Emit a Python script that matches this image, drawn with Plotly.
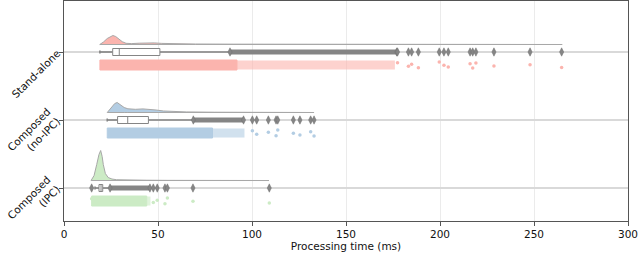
import plotly.graph_objects as go

# ---------------- data ----------------
categories = ["Stand-alone", "Composed<br>(no-IPC)", "Composed<br>(IPC)"]
colors = ["#fbb4ae", "#b3cde3", "#ccebc5"]

# half-violin density outlines: x (ms) and relative density height
sa_dens_x = [19, 21, 23, 25, 26, 27.5, 29, 31, 33, 36, 40, 44, 48, 52, 58, 70, 90, 130, 180, 265]
sa_dens_h = [0, 2.5, 6, 8.5, 9, 8, 5.5, 2.8, 1.2, 0.9, 1.3, 1.7, 1.6, 1.1, 0.7, 0.5, 0.35, 0.2, 0.1, 0]
np_dens_x = [23, 25, 27, 28.3, 30, 32, 34, 38, 42, 45.5, 49, 53, 57, 65, 80, 100, 133]
np_dens_h = [0, 4, 9, 10, 8, 5, 3.7, 3.2, 3.6, 3.4, 2.5, 1.5, 1.0, 0.6, 0.3, 0.15, 0]
ipc_dens_x = [14.4, 16, 17.4, 18.6, 19.5, 20.3, 20.9, 22, 23.5, 25.5, 28, 32, 35, 39, 44, 55, 75, 109]
ipc_dens_h = [0, 5, 16, 26, 30, 24, 16, 7, 3, 1.5, 0.8, 0.8, 1.0, 0.7, 0.3, 0.15, 0.05, 0]

# box statistics: low whisker, q1, median, q3, high whisker
sa_box = [19.1, 25.9, 29.4, 51.0, 88.3]
np_box = [23.0, 28.5, 33.9, 44.9, 68.8]
ipc_box = [16.5, 18.6, 19.7, 20.6, 24.5]

# dense runs of outliers (start, end) and isolated tail values
sa_out_run = [88.3, 177.0]
np_out_run = [68.8, 95.5]
ipc_out_run = [24.5, 45.7]
sa_tail = [177.4, 183.2, 184.9, 188.5, 199.6, 202.1, 204.4, 216.0, 217.4, 219.1, 228.7, 247.9, 264.7]
np_tail = [100.2, 102.5, 108.7, 112.8, 113.7, 122.0, 125.5, 131.2, 133.0]
ipc_tail = [14.7, 47.5, 49.6, 53.7, 55.0, 68.6, 109.2]

# raw-point (strip) bands: dense part and sparser part (start, end)
sa_strip_dense = [19.1, 92.0]
sa_strip_sparse = [92.0, 176.0]
np_strip_dense = [23.0, 79.0]
np_strip_sparse = [79.0, 96.0]
ipc_strip_dense = [14.7, 44.0]
ipc_strip_sparse = [44.0, 46.0]

x_ticks = [0, 50, 100, 150, 200, 250, 300]

# ---------------- drawing ----------------
dens_x = [sa_dens_x, np_dens_x, ipc_dens_x]
dens_h = [sa_dens_h, np_dens_h, ipc_dens_h]
boxes = [sa_box, np_box, ipc_box]
out_runs = [sa_out_run, np_out_run, ipc_out_run]
tails = [sa_tail, np_tail, ipc_tail]
strip_dense = [sa_strip_dense, np_strip_dense, ipc_strip_dense]
strip_sparse = [sa_strip_sparse, np_strip_sparse, ipc_strip_sparse]

PX = 1 / 68.0          # one pixel in y data units
GRAY = "#858585"
fig = go.Figure()

jit = [-0.035, 0.02, -0.01, 0.04, -0.045, 0.005, 0.03, -0.02, 0.045, -0.03, 0.015, -0.005, 0.035]

for i in range(3):
    yc = i
    base = yc - 7.5 * PX
    # half violin
    xs = dens_x[i]
    ys = [base - h * PX for h in dens_h[i]]
    fig.add_trace(go.Scatter(
        x=xs + xs[::-1], y=ys + [base] * len(xs), fill="toself",
        fillcolor=colors[i], line=dict(color="#a8a8a8", width=1),
        mode="lines", hoverinfo="skip"))

    # box
    lw, q1, med, q3, hw = boxes[i]
    bh = 3.5 * PX
    fig.add_trace(go.Scatter(x=[lw, q1, None, q3, hw], y=[yc, yc, None, yc, yc],
                             mode="lines", line=dict(color=GRAY, width=1.6), hoverinfo="skip"))
    fig.add_trace(go.Scatter(x=[lw, lw, None, hw, hw], y=[yc - 1.5 * PX, yc + 1.5 * PX, None, yc - 1.5 * PX, yc + 1.5 * PX],
                             mode="lines", line=dict(color=GRAY, width=1.6), hoverinfo="skip"))
    fig.add_trace(go.Scatter(x=[q1, q3, q3, q1, q1], y=[yc - bh, yc - bh, yc + bh, yc + bh, yc - bh],
                             mode="lines", fill="toself", fillcolor="white",
                             line=dict(color=GRAY, width=1), hoverinfo="skip"))
    fig.add_trace(go.Scatter(x=[med, med], y=[yc - bh, yc + bh], mode="lines",
                             line=dict(color=GRAY, width=1), hoverinfo="skip"))

    # outliers
    r0, r1 = out_runs[i]
    fig.add_trace(go.Scatter(x=[r0, r1], y=[yc, yc], mode="lines",
                             line=dict(color=GRAY, width=5), hoverinfo="skip"))
    fig.add_trace(go.Scatter(x=[r0, r1] + tails[i], y=[yc] * (2 + len(tails[i])), mode="markers",
                             marker=dict(symbol="diamond-tall", size=6, color=GRAY,
                                         line=dict(color="#707070", width=0.5)),
                             hoverinfo="skip"))

    # strip of raw points
    sc = yc + 13 * PX
    hh = 5 * PX
    d0, d1 = strip_dense[i]
    fig.add_trace(go.Scatter(x=[d0, d1, d1, d0, d0], y=[sc - hh, sc - hh, sc + hh, sc + hh, sc - hh],
                             mode="lines", fill="toself", fillcolor=colors[i],
                             line=dict(color=colors[i], width=1), hoverinfo="skip"))
    s0, s1 = strip_sparse[i]
    fig.add_trace(go.Scatter(x=[s0, s1, s1, s0, s0], y=[sc - hh * 0.9, sc - hh * 0.9, sc + hh * 0.9, sc + hh * 0.9, sc - hh * 0.9],
                             mode="lines", fill="toself", fillcolor=colors[i], opacity=0.6,
                             line=dict(color=colors[i], width=0), hoverinfo="skip"))
    t = tails[i]
    fig.add_trace(go.Scatter(x=t, y=[sc + jit[k % len(jit)] for k in range(len(t))], mode="markers",
                             marker=dict(size=3.5, color=colors[i]), hoverinfo="skip"))

FONT = "DejaVu Sans, Verdana, sans-serif"
fig.update_layout(
    width=640, height=254,
    margin=dict(l=64, r=12, t=1, b=33, autoexpand=False),
    paper_bgcolor="white", plot_bgcolor="white",
    showlegend=False,
    font=dict(family=FONT, size=10.5, color="#111"),
    xaxis=dict(range=[0, 300], tickvals=x_ticks, ticktext=[str(v) for v in x_ticks],
               automargin=False,
               showgrid=True, gridcolor="#ebebeb", gridwidth=1, zeroline=False,
               showline=True, mirror=True, linecolor="#555", linewidth=1.3,
               ticks="outside", ticklen=3.5, tickcolor="#555",
               title=dict(text="Processing time (ms)", standoff=2, font=dict(size=10.5))),
    yaxis=dict(range=[2.485, -0.75], tickvals=[0, 1, 2], ticktext=categories,
               automargin=False,
               tickangle=-45, showgrid=True, gridcolor="#d9d9d9", gridwidth=1.5, zeroline=False,
               showline=True, mirror=True, linecolor="#555", linewidth=1.3,
               ticks="outside", ticklen=3.5, tickcolor="#555"),
)

fig.write_html("out.html", config={"displayModeBar": False},
               post_script="document.body.style.margin='0';document.body.style.overflow='hidden';")
